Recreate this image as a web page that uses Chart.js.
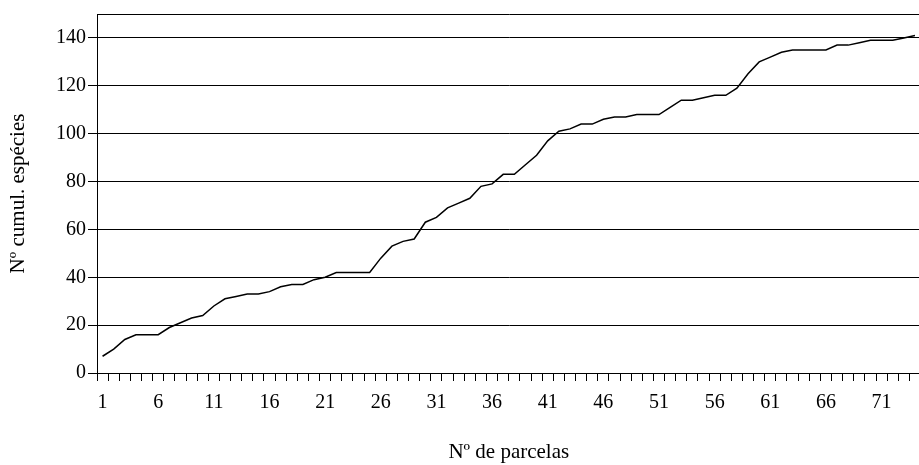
<!DOCTYPE html>
<html><head><meta charset="utf-8">
<script src="https://cdn.jsdelivr.net/npm/chart.js@4"></script>
<style>html,body{margin:0;padding:0;overflow:hidden;background:#fff;width:919px;height:465px}
#c{display:block}</style></head>
<body><canvas id="c" width="925" height="465"></canvas>
<script>
const parcelas = [1,2,3,4,5,6,7,8,9,10,11,12,13,14,15,16,17,18,19,20,21,22,23,24,25,26,27,28,29,30,31,32,33,34,35,36,37,38,39,40,41,42,43,44,45,46,47,48,49,50,51,52,53,54,55,56,57,58,59,60,61,62,63,64,65,66,67,68,69,70,71,72,73,74];
const especies = [7,10,14,16,16,16,19,21,23,24,28,31,32,33,33,34,36,37,37,39,40,42,42,42,42,48,53,55,56,63,65,69,71,73,78,79,83,83,87,91,97,101,102,104,104,106,107,107,108,108,108,111,114,114,115,116,116,119,125,130,132,134,135,135,135,135,137,137,138,139,139,139,140,141];
const xTickLabels = [1,6,11,16,21,26,31,36,41,46,51,56,61,66,71];
const yTickLabels = [0,20,40,60,80,100,120,140];
const FONT = "'Liberation Serif', 'Times New Roman', serif";

new Chart(document.getElementById('c'), {
  type: 'line',
  data: {
    labels: parcelas,
    datasets: [{
      data: especies,
      borderColor: '#000',
      borderWidth: 1.5,
      pointRadius: 0,
      tension: 0,
      fill: false
    }]
  },
  options: {
    responsive: false,
    animation: false,
    devicePixelRatio: 1,
    layout: { padding: { top: 13, right: 3, bottom: 0, left: 0 } },
    plugins: { legend: { display: false }, tooltip: { enabled: false } },
    scales: {
      x: {
        type: 'category',
        offset: true,
        grid: { offset: true, drawOnChartArea: false, drawTicks: true, tickLength: 8, color: '#000', lineWidth: 1 },
        border: { color: '#000', width: 1 },
        ticks: {
          autoSkip: false, maxRotation: 0, color: '#000', padding: 10,
          font: { family: FONT, size: 20 },
          callback: function(v, i) { const l = parcelas[i]; return xTickLabels.includes(l) ? String(l) : ''; }
        },
        title: { display: true, text: 'Nº de parcelas', color: '#000', font: { family: FONT, size: 21 }, padding: { top: 1, bottom: 0 } },
        afterFit: function(s) { s.height = 92; }
      },
      y: {
        min: 0, max: 150,
        grid: {
          color: '#000', lineWidth: 1, drawTicks: true, tickLength: 9,
          tickColor: function(ctx) { return (ctx.tick && yTickLabels.includes(ctx.tick.value)) ? '#000' : 'rgba(0,0,0,0)'; }
        },
        border: { color: '#000', width: 1 },
        ticks: {
          stepSize: 20, color: '#000', padding: 2,
          font: { family: FONT, size: 20 },
          callback: function(v) { return yTickLabels.includes(v) ? String(v) : ''; }
        },
        title: { display: true, text: 'Nº cumul. espécies', color: '#000', font: { family: FONT, size: 21 }, padding: { top: 6, bottom: 0 } },
        afterFit: function(s) { s.width = 97; }
      }
    }
  }
});
</script>
</body></html>
